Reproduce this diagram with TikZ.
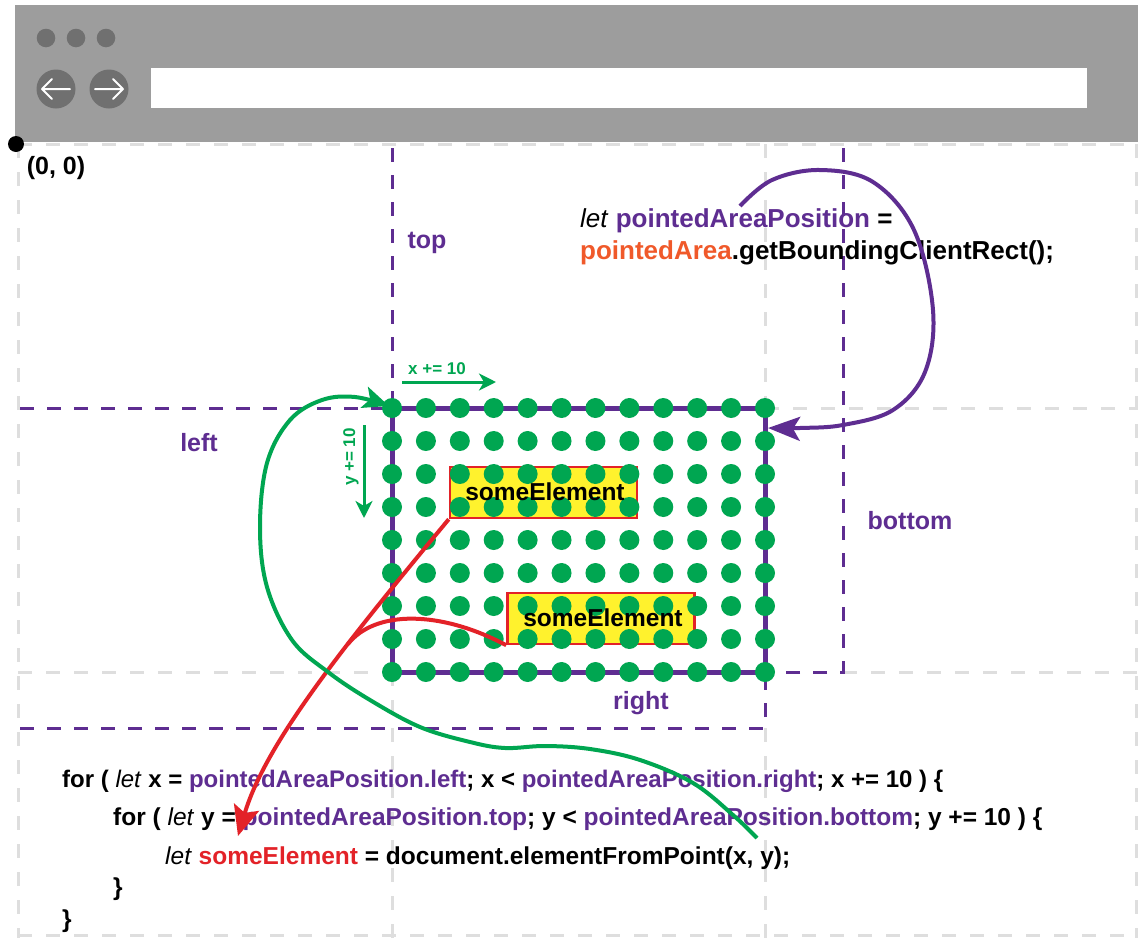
\documentclass[tikz,border=0pt]{standalone}
\usepackage{fontspec}
\setmainfont{Liberation Sans}
\usetikzlibrary{arrows.meta}
\definecolor{pur}{HTML}{5E2D91}
\definecolor{grn}{HTML}{00A651}
\definecolor{redc}{HTML}{E32228}
\definecolor{org}{HTML}{F0592A}
\definecolor{barg}{HTML}{9D9D9D}
\definecolor{darkg}{HTML}{707070}
\definecolor{gridg}{HTML}{DEDEDE}
\definecolor{yel}{HTML}{FFF22D}
\begin{document}
\begin{tikzpicture}[x=1bp,y=-1bp,
  griddash/.style={draw=gridg, line width=3bp, dash pattern=on 14bp off 14bp},
  areadash/.style={draw=pur, line width=3bp, dash pattern=on 14bp off 13bp},
  lbl/.style={font=\fontsize{25bp}{29bp}\selectfont\bfseries, text=pur, inner sep=0pt},
  code/.style={font=\fontsize{24.5bp}{28bp}\selectfont\bfseries, anchor=base west, inner sep=0pt},
  topcode/.style={font=\fontsize{26bp}{30bp}\selectfont\bfseries, anchor=base west, inner sep=0pt},
  elbox/.style={draw=redc, fill=yel, line width=2.5bp, minimum width=187bp, minimum height=51bp, inner sep=0pt},
  eltext/.style={font=\fontsize{24.5bp}{28bp}\selectfont\bfseries, inner sep=0pt},
  small/.style={font=\fontsize{17bp}{20bp}\selectfont\bfseries, text=grn, inner sep=0pt},
  dot/.style={fill=grn},
  nav/.style={fill=darkg},
  navarrow/.style={draw=white, line width=2bp, line cap=round, line join=round}
]
\useasboundingbox (0,0) rectangle (1138,938);
\fill[white] (0,0) rectangle (1138,938);

% browser bar
\fill[barg] (15,5) rectangle (1138,142);
\fill[nav] (46,38) circle (9.3bp);
\fill[nav] (76,38) circle (9.3bp);
\fill[nav] (106,38) circle (9.3bp);
\node[nav, circle, minimum size=39bp, inner sep=0pt] (back) at (56,89) {};
\node[nav, circle, minimum size=39bp, inner sep=0pt] (fwd) at (109,89) {};
\draw[navarrow] (42,89) -- (70,89) (52,79) -- (42,89) -- (52,99);
\draw[navarrow] (95,89) -- (123,89) (113,79) -- (123,89) -- (113,99);
\node[fill=white, minimum width=936bp, minimum height=40bp, inner sep=0pt, anchor=north west] (addr) at (151,68) {};

% gray grid
\draw[griddash] (18,144) -- (1138,144);
\draw[griddash] (765,408) -- (1138,408);
\draw[griddash] (18,672) -- (392,672);
\draw[griddash] (843,672) -- (1138,672);
\draw[griddash] (18,935) -- (1138,935);
\draw[griddash] (18,144) -- (18,938);
\draw[griddash] (392,672) -- (392,938);
\draw[griddash] (765,144) -- (765,408);
\draw[griddash] (765,728) -- (765,938);
\draw[griddash] (1136,144) -- (1136,938);

% origin
\fill[black] (16,144) circle (8bp);
\node[lbl, text=black] (origin) at (56,168) {(0, 0)};

% purple dashed boundaries
\draw[areadash] (392,148) -- (392,408);
\draw[areadash] (20,408) -- (392,408);
\draw[areadash] (843,148) -- (843,672) -- (765,672);
\draw[areadash] (20,728) -- (765,728) -- (765,672);
\node[lbl] (ltop) at (427,243) {top};
\node[lbl] (lleft) at (199,443) {left};
\node[lbl] (lbottom) at (910,521) {bottom};
\node[lbl] (lright) at (641,703) {right};

% pointed area
\draw[pur, line width=5bp] (392,408) rectangle (765,672);
\node[elbox] (e1) at (543.5,492.5) {};
\node[elbox] (e2) at (601,618.5) {};
\foreach \i in {0,...,11}
  \foreach \j in {0,...,8}
    \fill[dot] ({392+\i*33.909},{408+\j*33}) circle (10bp);
\node[eltext] (t1) at (545,492) {someElement};
\node[eltext] (t2) at (603,618) {someElement};

% step arrows
\node[small] (xs) at (437,369) {x += 10};
\coordinate (xa) at (402,382);
\coordinate (xb) at (496,382);
\draw[grn, line width=3bp, -{Stealth[length=17bp,width=17bp,inset=5bp]}] (xa) -- (xb);
\node[small, rotate=90] (ys) at (351,457) {y += 10};
\coordinate (ya) at (364,425);
\coordinate (yb) at (364,518);
\draw[grn, line width=3bp, -{Stealth[length=17bp,width=17bp,inset=5bp]}] (ya) -- (yb);

% texts
\node[topcode] (p1) at (580,227) {\textit{\mdseries let} \textcolor{pur}{pointedAreaPosition} =};
\node[topcode] (p2) at (580,259) {\textcolor{org}{pointedArea}.getBoundingClientRect();};

\node[code, font=\fontsize{24bp}{28bp}\selectfont\bfseries] (l1) at (62,787) {for ( \textit{\mdseries let} x = \textcolor{pur}{pointedAreaPosition.left}; x < \textcolor{pur}{pointedAreaPosition.right}; x += 10 ) \{};
\node[code] (l2) at (113,825) {for ( \textit{\mdseries let} y = \textcolor{pur}{pointedAreaPosition.top}; y < \textcolor{pur}{pointedAreaPosition.bottom}; y += 10 ) \{};
\node[code] (l3) at (165,864) {\textit{\mdseries let} \textcolor{redc}{someElement} = document.elementFromPoint(x, y);};
\node[code] (l4) at (113,895) {\}};
\node[code] (l5) at (62,927) {\}};

% red arrows
\coordinate (rtip) at (238,836);
\coordinate (rjoin) at (348,644);
\draw[redc, line width=4bp, -{Stealth[length=30bp,width=26bp,inset=6bp]}] (e1.south west) .. controls (340,650) and (265,745) .. (rtip);
\draw[redc, line width=4bp] (e2.south west) .. controls (440,610) and (375,610) .. (rjoin);

% green loop arrow
\draw[grn, line width=4bp, -{Stealth[length=26bp,width=22bp,inset=6bp]}]
  plot[smooth, tension=0.6] coordinates {(757,838) (733,815) (693,783) (640,760) (590,749) (545,746) (505,748) (470,742) (420,727) (370,700) (328,672) (292,640) (267,587) (260,527) (267,463) (290,420) (322,400) (355,397) (389,406)};

% purple loop arrow
\draw[pur, line width=4bp, -{Stealth[length=32bp,width=24bp,inset=7bp]}]
  plot[smooth, tension=0.6] coordinates {(740,206) (772,180) (820,170) (873,182) (914,230) (933,310) (925,372) (893,410) (843,425) (800,428) (768,428)};
\end{tikzpicture}
\end{document}
